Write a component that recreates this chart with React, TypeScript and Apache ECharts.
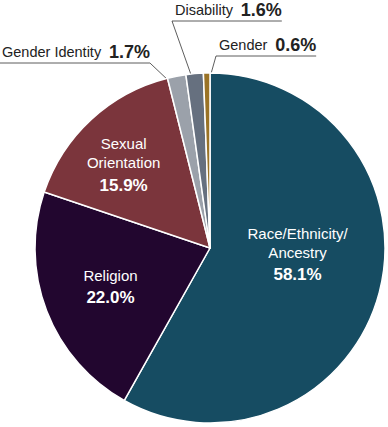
import React, { useEffect, useRef } from "react";
import * as echarts from "echarts";

const categories = [
  "Race/Ethnicity/\nAncestry",
  "Religion",
  "Sexual\nOrientation",
  "Gender Identity",
  "Disability",
  "Gender",
];
const values = [58.1, 22.0, 15.9, 1.7, 1.6, 0.6];
const colors = ["#164c62", "#22062f", "#7b353c", "#9ba1aa", "#66707f", "#9a7326"];
const outside = [false, false, false, true, true, true];

const FONT = "'Liberation Sans', Arial, Helvetica, sans-serif";
const CX = 210;
const CY = 248;
const R = 175;

// label placement (layout)
const insideShift: Record<number, [number, number]> = {
  0: [0, -15],
  1: [-15, 8],
  2: [-25, -15],
};
const outsideAnchor: Record<number, { left: number; lineY: number; side: "left" | "right" }> = {
  3: { left: 2, lineY: 63, side: "right" },
  4: { left: 175, lineY: 21, side: "left" },
  5: { left: 219, lineY: 56, side: "left" },
};

export default function App() {
  const ref = useRef<HTMLDivElement>(null);
  useEffect(() => {
    if (!ref.current) return;
    const chart = echarts.init(ref.current, null, { renderer: "svg" });
    const data = categories.map((name, i) => ({
      name,
      value: values[i],
      itemStyle: { color: colors[i] },
      label: outside[i]
        ? {
            show: true,
            position: "outside",
            formatter: (p: any) => `{n|${p.name}}  {p|${p.value.toFixed(1)}%}`,
            rich: {
              n: { fontSize: 14.5, color: "#222", fontFamily: FONT },
              p: { fontSize: 18, fontWeight: "bold", color: "#222", fontFamily: FONT },
            },
          }
        : {
            show: true,
            position: "inside",
            formatter: (p: any) => `{n|${p.name}}\n{p|${p.value.toFixed(1)}%}`,
            rich: {
              n: { fontSize: 15, color: "#ffffff", lineHeight: 19, fontFamily: FONT, align: "center" },
              p: { fontSize: 17, fontWeight: "bold", color: "#ffffff", lineHeight: 26, fontFamily: FONT, align: "center" },
            },
          },
      labelLine: outside[i]
        ? { show: true, lineStyle: { color: "#333", width: 0.8 } }
        : { show: false },
    }));

    chart.setOption({
      animation: false,
      series: [
        {
          type: "pie",
          center: [CX, CY],
          radius: R,
          startAngle: 90,
          clockwise: true,
          avoidLabelOverlap: false,
          itemStyle: { borderColor: "#ffffff", borderWidth: 1.5 },
          emphasis: { disabled: true },
          label: { fontFamily: FONT, fontSize: 14, color: "#222" },
          data,
          labelLayout: (params: any) => {
            const i = params.dataIndex;
            if (insideShift[i]) {
              return { dx: insideShift[i][0], dy: insideShift[i][1] };
            }
            const a = outsideAnchor[i];
            if (!a) return {};
            const w = params.labelRect.width;
            const p0 = params.labelLinePoints ? params.labelLinePoints[0] : [CX, CY - R];
            const vx = CX - p0[0];
            const vy = CY - p0[1];
            const len = Math.sqrt(vx * vx + vy * vy) || 1;
            const start = [p0[0] + (vx / len) * 15, p0[1] + (vy / len) * 15];
            const lineStart = a.left - 3;
            const lineEnd = a.left + w;
            const corner = a.side === "right" ? [lineEnd, a.lineY] : [lineStart, a.lineY];
            const end = a.side === "right" ? [lineStart, a.lineY] : [lineEnd, a.lineY];
            return {
              x: a.left,
              y: a.lineY - 2,
              align: "left",
              verticalAlign: "bottom",
              labelLinePoints: [start, corner, end],
            };
          },
        },
      ],
    });
    return () => chart.dispose();
  }, []);
  return (
    <div
      ref={ref}
      style={{ position: "absolute", left: 0, top: 0, width: 388, height: 427 }}
    />
  );
}
